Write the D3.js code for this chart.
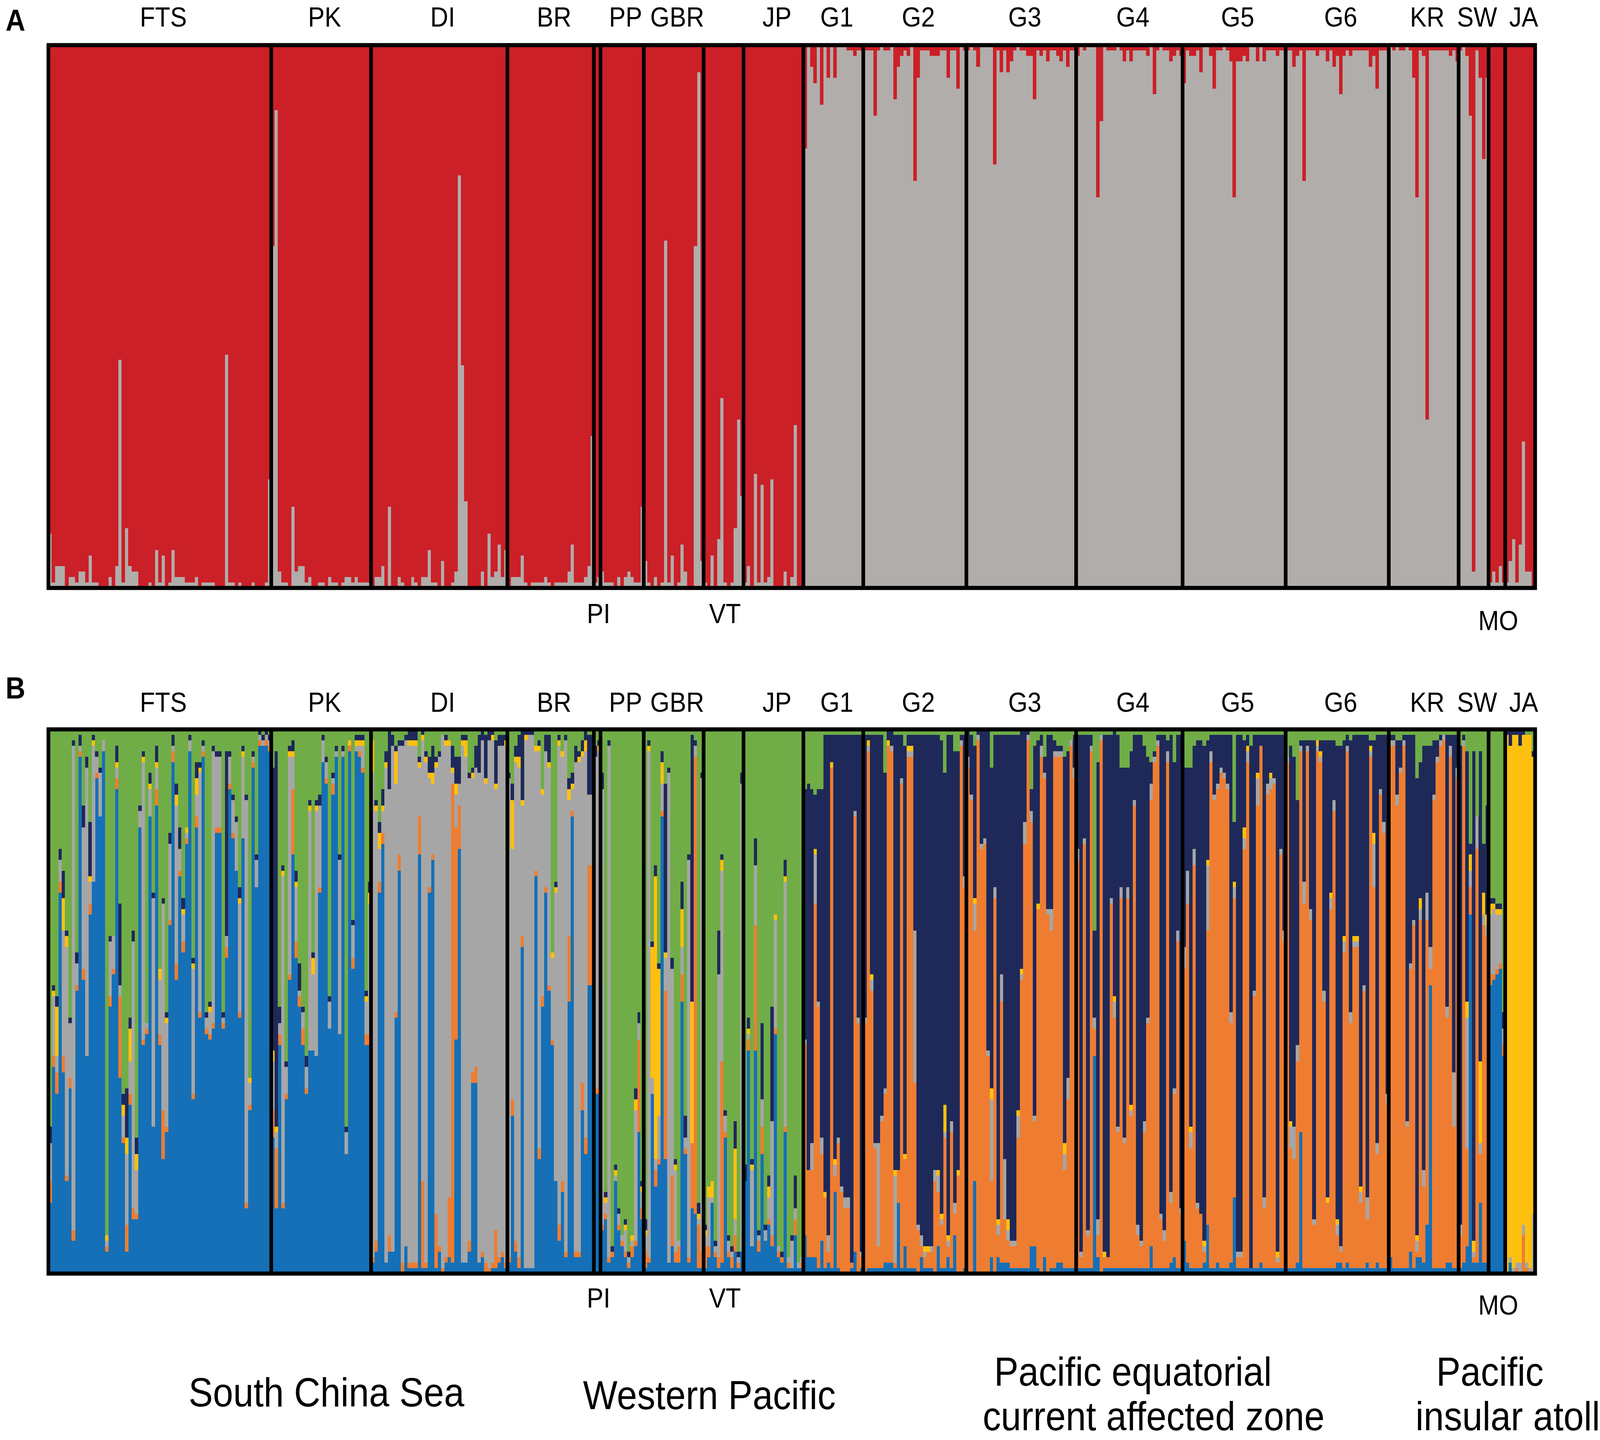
<!DOCTYPE html>
<html><head><meta charset="utf-8">
<script src="https://cdn.jsdelivr.net/npm/d3@7"></script>
<style>html,body{margin:0;padding:0;background:#fff;overflow:hidden}svg{display:block;width:100vw;height:100vh}</style>
</head><body>
<svg id="chart" viewBox="0 0 4563 3686" preserveAspectRatio="none"></svg>
<script>
// ---------------- DATA ----------------
const populations = ["FTS","PK","DI","BR","PI","PP","GBR","VT","JP","G1","G2","G3","G4","G5","G6","KR","SW","MO","JA"];
const topLabels = ["FTS","PK","DI","BR","PP","GBR","JP","G1","G2","G3","G4","G5","G6","KR","SW","JA"];
const bottomLabels = ["PI","VT","MO"];
const regionNames = [["South China Sea"],["Western Pacific"],["Pacific equatorial","current affected zone"],["Pacific","insular atoll"]];

// Panel A (K=2): membership (%) of the grey cluster per individual; red = 100 - grey
const A_FTS = [10,1,4,4,4,0,2,2,1,3,3,1,6,1,1,0,0,0,2,0,4,42,1,11,4,3,3,0,0,0,1,0,7,1,6,0,1,7,2,2,2,1,1,1,2,0,1,1,1,1,0,0,0,43,1,1,0,1,0,0,0,1,0,0,0,1,20];
const A_PK  = [63,88,3,1,1,0,15,3,4,4,1,2,0,0,1,1,0,2,1,1,0,1,2,2,1,2,1,1,1,1];
const A_DI  = [0,2,2,4,0,15,0,0,2,1,0,0,2,1,0,2,2,7,1,1,0,5,0,0,1,3,76,41,16,0,0,0,0,3,0,10,2,3,8,2,7];
const A_BR  = [0,2,2,2,6,1,0,1,1,1,1,2,1,0,1,1,1,1,3,8,1,1,1,2,4,28];
const A_PI  = [1,2];
const A_PP  = [3,1,1,1,0,2,0,2,3,2,1,1,15];
const A_GBR = [5,1,0,2,0,1,64,1,6,0,1,8,3,0,0,63,95,5];
const A_VT  = [1,0,6,0,9,35,1,0,1,11,31,17];
const A_JP  = [1,4,0,21,1,19,1,2,20,0,0,0,3,0,2,30,0,0];
const A_G1  = [81,100,96,93,100,89,100,94,100,94,100,100,100,99,99,98,99,99];
const A_G2  = [99,99,99,87,99,100,99,99,100,90,96,98,99,98,100,75,94,99,99,99,98,98,98,99,99,94,99,99,92,100,99];
const A_G3  = [99,100,99,96,100,100,100,100,78,99,95,99,95,97,99,100,99,99,98,98,90,99,98,99,97,99,99,98,97,99,96,99,99];
const A_G4  = [98,100,99,100,100,100,72,86,100,99,99,99,100,99,97,99,97,99,99,99,99,98,100,91,99,100,99,99,97,98,99,98];
const A_G5  = [93,99,98,98,99,95,100,100,98,92,99,99,100,99,97,72,97,97,98,97,100,100,97,100,97,99,99,99,98,99,99];
const A_G6  = [99,99,96,98,99,75,99,99,99,98,99,99,97,99,96,98,91,98,99,98,99,99,99,99,99,96,98,92,99,99,99];
const A_KR  = [100,99,100,99,99,100,99,94,72,99,98,31,99,99,99,99,99,99,98,99,97];
const A_SW  = [99,100,98,87,3,99,94,79,94];
const A_MO  = [1,3,1,4,1];
const A_JA  = [1,5,9,1,8,27,3,3,0];

// Panel B (K=6): [blue, orange, grey, yellow, navy] in %, green = remainder
const B_FTS = [[13,4,7,0,3],[38,2,11,1,1],[33,4,3,9,2],[70,2,4,0,2],[37,3,23,6,5],[17,1,42,2,1],[34,2,10,0,1],[6,2,89,0,1],[52,1,4,0,2],[95,1,1,0,2],
[54,2,26,0,4],[40,0,53,0,2],[66,2,4,1,10],[72,0,25,1,1],[91,1,3,0,1],[84,0,8,0,1],[96,0,2,0,0],[4,1,1,1,0],[49,2,10,0,1],[55,1,6,0,0],
[89,2,2,1,3],[36,15,2,0,15],[24,1,4,2,2],[4,5,13,3,9],[31,2,6,6,2],[10,2,49,0,2],[10,1,8,3,3],[82,0,3,0,1],[42,1,51,1,1],[44,1,1,0,0],
[84,0,5,1,2],[27,0,42,0,1],[86,3,4,1,3],[42,2,10,2,0],[21,9,38,0,1],[26,1,19,1,1],[64,1,14,0,2],[94,2,1,0,2],[54,3,29,2,2],[73,1,4,0,4],
[59,2,5,1,2],[79,1,1,1,0],[96,0,2,0,1],[32,1,23,1,1],[82,2,4,3,3],[47,1,44,1,1],[95,1,1,0,1],[44,1,2,0,1],[43,1,4,1,1],[45,1,50,0,1],
[81,1,13,0,1],[81,1,13,0,1],[45,1,1,0,1],[58,2,2,0,34],[89,1,5,0,1],[80,1,6,0,1],[74,0,9,0,1],[47,1,20,1,2],[80,0,15,1,1],[12,1,74,0,1],
[30,1,4,1,0],[93,1,1,0,1],[71,0,5,0,1],[97,1,1,0,1],[97,0,1,0,1],[97,1,1,0,1],[96,1,1,0,1]];
const B_PK = [[25,5,9,2,52],[12,11,3,1,69],[42,2,2,0,3],[12,1,60,1,1],[32,1,5,0,1],[54,1,40,1,1],[77,12,6,1,2],[58,3,10,1,2],[49,2,1,0,5],[42,3,3,0,1],
[33,1,4,0,2],[41,0,44,1,1],[41,0,14,3,1],[40,0,45,1,1],[70,1,15,0,2],[94,0,4,0,1],[90,1,3,0,1],[45,0,5,0,1],[88,2,1,0,1],[95,0,1,0,1],
[44,0,32,0,1],[95,0,1,0,1],[22,0,4,0,1],[96,1,0,1,0],[56,2,6,0,1],[96,0,1,1,1],[95,1,1,1,1],[92,1,4,1,1],[42,2,6,1,1],[42,2,24,2,2]];
const B_DI = [[2,1,89,6,0],[4,2,79,1,1],[70,2,6,3,2],[79,2,4,1,3],[2,0,91,1,2],[4,3,82,0,11],[4,0,93,0,2],[47,1,42,6,1],[74,3,20,0,1],[0,2,95,0,1],
[5,0,93,0,1],[1,1,95,1,2],[1,1,95,1,2],[1,1,95,1,2],[77,7,9,1,1],[1,16,81,1,1],[1,1,92,1,1],[70,1,20,1,3],[76,1,13,2,5],[1,10,82,1,1],
[4,1,90,0,1],[0,1,98,0,0],[2,1,94,1,1],[3,11,83,1,0],[2,88,2,1,4],[43,39,6,2,5],[78,8,4,0,5],[2,0,95,1,1],[2,0,93,3,1],[4,2,85,0,1],
[35,2,54,1,1],[35,3,55,0,4],[2,0,90,0,7],[3,1,94,0,2],[0,2,88,1,8],[0,1,97,0,2],[1,1,96,1,1],[1,7,81,1,8],[2,1,94,0,2],[3,1,93,0,2],[1,1,95,1,1]];
const B_BR = [[2,1,88,0,1],[29,3,46,9,3],[4,2,88,1,2],[1,2,90,2,4],[60,2,24,1,13],[1,0,97,1,1],[1,0,98,0,1],[1,0,98,0,1],[73,1,22,1,0],[21,2,73,1,1],
[49,2,37,1,0],[70,1,25,0,3],[52,1,40,1,5],[42,1,15,1,0],[17,0,53,1,1],[6,3,88,1,1],[15,2,78,1,0],[3,1,94,0,1],[50,12,25,2,2],[84,1,4,1,2],
[3,1,90,0,3],[3,1,90,1,1],[30,5,60,1,2],[22,3,71,2,2],[53,22,13,0,11],[53,22,13,0,11]];
const B_PI = [[33,1,61,0,2],[33,1,62,1,1]];
const B_PP = [[8,1,80,0,3],[10,1,2,1,1],[2,1,94,0,1],[3,1,0,0,1],[17,0,1,1,1],[8,1,2,0,1],[5,1,1,0,0],[3,1,4,1,1],[1,1,1,0,1],[3,2,1,1,0],[5,1,24,2,2],[26,17,3,0,2],[10,2,3,1,1]];
const B_GBR = [[1,3,3,1,2],[2,1,93,1,1],[33,0,3,24,1],[16,3,2,52,2],[20,1,8,27,1],[84,1,5,4,2],[21,31,6,1,31],[2,0,90,0,1],[5,13,38,0,2],[2,2,15,1,1],
[2,3,1,0,0],[50,5,5,7,5],[22,1,2,0,4],[2,1,73,0,1],[12,12,0,26,49],[11,84,2,0,1],[1,8,1,1,2],[1,3,87,0,1]];
const B_VT = [[1,4,2,1,1],[3,2,9,2,0],[13,0,1,3,0],[3,1,1,0,1],[1,2,52,0,8],[2,37,35,2,1],[25,1,3,0,1],[3,1,2,0,1],[1,2,1,0,1],[4,3,3,13,5],[1,1,1,0,1],[4,0,86,0,2]];
const B_JP = [[17,0,0,0,3],[41,2,1,1,2],[5,0,14,1,1],[41,23,11,0,5],[4,2,1,0,1],[22,5,5,0,14],[6,0,2,0,1],[9,1,4,2,2],[5,2,21,0,21],[44,1,20,1,0],
[3,1,1,0,0],[2,1,0,0,1],[26,1,45,1,3],[1,1,1,0,0],[1,0,5,0,1],[7,3,2,0,6],[1,0,1,0,0],[1,1,1,0,0]];
const B_G1 = [[7,35,1,0,46],[3,16,0,0,71],[3,16,5,0,65],[3,65,9,1,10],[1,48,1,0,39],[6,16,3,0,64],[1,13,0,1,84],[2,2,3,0,92],[1,92,0,1,5],[15,3,2,1,78],
[1,23,1,0,74],[0,15,1,0,83],[0,12,2,0,85],[0,12,2,0,85],[1,1,0,0,97],[4,80,1,0,14],[0,46,1,0,52],[1,2,1,0,95]];
const B_G2 = [[0,46,1,0,52],[1,95,1,1,1],[1,51,2,1,44],[1,22,1,0,75],[1,4,19,0,75],[1,27,1,0,70],[2,31,1,0,58],[2,95,0,1,2],[2,94,1,0,3],[1,1,16,1,80],
[13,6,0,0,80],[1,89,1,0,8],[5,16,0,1,75],[1,94,1,1,2],[1,94,1,1,2],[1,34,28,0,36],[0,8,1,0,90],[3,2,2,0,92],[1,2,1,1,94],[1,3,0,1,94],
[1,3,1,0,94],[0,17,2,0,80],[5,10,3,1,80],[1,8,1,1,87],[1,24,1,5,61],[3,2,1,1,92],[1,25,2,0,71],[7,4,2,0,83],[0,18,0,1,77],[0,97,1,0,1],[1,70,2,0,26]];
const B_G3 = [[0,93,2,0,5],[0,87,1,0,11],[17,46,5,1,28],[0,98,1,0,1],[0,78,1,0,21],[0,79,1,0,20],[0,40,1,0,59],[3,14,15,2,59],[0,69,2,0,28],[3,4,2,1,89],
[2,48,5,0,44],[2,8,11,0,78],[2,4,2,2,89],[1,4,1,0,93],[1,4,1,0,93],[1,24,4,1,69],[1,53,1,1,44],[1,78,4,0,17],[1,97,1,0,1],[5,78,2,0,4],
[5,23,1,0,68],[1,66,0,1,30],[0,95,2,0,2],[3,88,1,0,3],[0,66,1,0,32],[1,62,4,0,32],[1,94,1,0,2],[2,93,1,0,1],[2,93,1,0,1],[1,18,3,2,71],
[1,31,4,0,60],[1,96,1,0,0],[1,90,2,0,6]];
const B_G4 = [[1,75,2,0,21],[1,2,1,0,95],[1,78,1,0,19],[1,6,1,0,91],[1,95,1,0,2],[40,5,2,0,16],[3,4,3,0,84],[0,98,1,0,0],[1,2,0,1,95],[1,2,0,0,96],
[1,67,1,0,30],[1,46,3,1,49],[1,25,1,0,72],[1,68,2,0,22],[1,23,1,0,68],[1,68,2,0,22],[1,28,1,1,65],[1,85,1,0,12],[1,6,2,0,90],[1,4,1,0,93],
[1,25,2,0,69],[1,45,1,0,48],[5,82,3,0,4],[1,93,1,0,1],[1,96,1,0,1],[1,9,1,0,88],[1,5,2,0,91],[1,93,2,0,2],[2,11,2,0,84],[3,30,1,0,60],
[1,60,2,0,36],[1,10,1,0,87]];
const B_G5 = [[6,50,4,0,33],[2,66,6,0,19],[1,22,3,1,66],[1,74,3,0,19],[1,11,1,0,85],[1,10,0,0,87],[2,2,1,1,91],[9,54,12,1,22],[1,93,2,0,3],[1,86,1,0,11],
[2,87,1,0,9],[1,91,1,0,6],[1,90,1,0,7],[1,88,1,0,9],[2,44,2,0,51],[14,55,2,1,11],[1,2,1,0,95],[1,2,1,0,95],[1,77,2,2,16],[1,93,2,1,2],
[1,0,0,0,96],[1,50,1,0,47],[1,85,5,1,7],[2,95,0,0,2],[1,11,2,0,85],[1,87,2,0,9],[1,88,2,1,7],[1,89,1,0,8],[1,1,1,1,95],[1,76,1,0,21],[1,60,2,0,36]];
const B_G6 = [[1,93,1,0,0],[1,22,4,1,69],[1,20,6,0,68],[2,37,3,0,45],[26,70,1,0,1],[1,67,4,0,26],[1,95,1,0,1],[1,64,2,0,31],[1,8,1,0,88],[1,95,1,1,0],
[1,93,1,1,2],[1,49,2,0,46],[1,12,0,1,84],[1,66,2,1,28],[1,84,2,0,11],[2,5,2,1,87],[2,2,1,0,92],[1,58,2,1,36],[2,94,1,0,2],[1,45,2,0,50],
[1,59,1,1,37],[1,59,1,1,37],[1,12,2,1,83],[1,51,1,0,46],[2,8,4,0,85],[1,94,1,1,1],[1,70,8,2,17],[2,20,2,0,75],[1,87,1,0,10],[1,80,2,0,16],[1,30,2,0,66]];
const B_KR = [[3,94,1,0,1],[1,96,1,0,1],[1,85,2,0,10],[1,91,1,0,5],[1,96,1,0,1],[1,26,1,0,71],[4,52,1,0,42],[1,63,1,0,34],[3,1,2,1,84],[3,62,2,2,25],
[2,14,3,0,78],[9,56,5,0,27],[53,3,4,0,37],[1,86,1,0,10],[1,93,1,0,3],[1,96,1,0,1],[1,97,1,0,0],[2,45,2,0,50],[2,93,2,0,2],[1,26,10,0,62],[1,90,2,0,6]];
const B_SW = [[1,6,2,0,88],[2,95,1,0,1],[5,18,24,3,46],[66,5,3,3,2],[2,1,1,2,90],[2,76,6,0,0],[13,9,2,15,57],[2,62,2,4,9],[2,60,2,2,20]];
const B_MO = [[53,2,11,2,1],[54,1,12,1,1],[55,1,10,1,1],[56,1,9,1,1],[40,2,3,0,3]];
const B_JA = [[0,0,0,99,1],[2,0,1,94,3],[0,0,1,98,1],[0,1,1,97,1],[0,0,2,95,3],[0,7,2,90,1],[0,1,1,97,0],[0,0,1,98,0],[0,0,11,84,1]];

const panelAData = [A_FTS,A_PK,A_DI,A_BR,A_PI,A_PP,A_GBR,A_VT,A_JP,A_G1,A_G2,A_G3,A_G4,A_G5,A_G6,A_KR,A_SW,A_MO,A_JA];
const panelBData = [B_FTS,B_PK,B_DI,B_BR,B_PI,B_PP,B_GBR,B_VT,B_JP,B_G1,B_G2,B_G3,B_G4,B_G5,B_G6,B_KR,B_SW,B_MO,B_JA];

const keysA = ["grey","red"];
const colorsA = {grey:"#b0adab", red:"#cb2027"};
const keysB = ["blue","orange","grey","yellow","navy","green"];
const colorsB = {blue:"#1570b8", orange:"#ee7d31", grey:"#a6a6a6", yellow:"#fec00f", navy:"#1e2959", green:"#70ad47"};

// ---------------- LAYOUT ----------------
const W = 4563, H = 3686;
const X0 = 138, X1 = 4378;
const panels = [
  {letter:"A", top:115.5, bottom:1505, letterY:79, labelY:68, botLabelY:1595, moY:1613},
  {letter:"B", top:1867, bottom:3260, letterY:1788, labelY:1822, botLabelY:3347, moY:3365}
];
const FONT = "'Liberation Sans', Arial, Helvetica, sans-serif";

const svg = d3.select("#chart");
svg.append("rect").attr("width",W).attr("height",H).attr("fill","#fff");

const counts = panelAData.map(a => a.length);
const N = d3.sum(counts);
const starts = []; let acc = 0;
counts.forEach(c => { starts.push(acc); acc += c; });

const x = d3.scaleBand().domain(d3.range(N)).range([X0, X1]).paddingInner(0).paddingOuter(0);
const xEdge = d3.scaleLinear().domain([0, N]).range([X0, X1]);

const rowsA = [];
panelAData.forEach((arr, p) => arr.forEach((g, j) => rowsA.push({idx: starts[p]+j, grey: g/100, red: (100-g)/100})));
const rowsB = [];
panelBData.forEach((arr, p) => arr.forEach((v, j) => {
  const s = v[0]+v[1]+v[2]+v[3]+v[4];
  rowsB.push({idx: starts[p]+j, blue:v[0]/100, orange:v[1]/100, grey:v[2]/100, yellow:v[3]/100, navy:v[4]/100, green:Math.max(0,100-s)/100});
}));

function drawPanel(pan, rows, keys, colors) {
  const y = d3.scaleLinear().domain([0,1]).range([pan.bottom, pan.top]);
  const series = d3.stack().keys(keys)(rows);
  const g = svg.append("g");
  g.selectAll("g.layer").data(series).join("g")
    .attr("class","layer").attr("fill", d => colors[d.key])
    .selectAll("rect").data(d => d).join("rect")
    .attr("x", d => x(d.data.idx))
    .attr("width", x.bandwidth() + 0.6)
    .attr("y", d => y(d[1]))
    .attr("height", d => Math.max(0, y(d[0]) - y(d[1])))
    .attr("shape-rendering","crispEdges");

  g.selectAll("line.sep").data(starts.slice(1)).join("line")
    .attr("x1", d => xEdge(d)).attr("x2", d => xEdge(d))
    .attr("y1", pan.top).attr("y2", pan.bottom)
    .attr("stroke","#000").attr("stroke-width",10.5);
  g.append("rect").attr("x",X0).attr("y",pan.top)
    .attr("width",X1-X0).attr("height",pan.bottom-pan.top)
    .attr("fill","none").attr("stroke","#000").attr("stroke-width",10.5);

  const center = p => (xEdge(starts[p]) + xEdge(starts[p]+counts[p]))/2;
  g.selectAll("text.top").data(topLabels).join("text")
    .attr("x", d => center(populations.indexOf(d)) + 10)
    .attr("y", pan.labelY)
    .attr("text-anchor","middle").attr("font-family",FONT).attr("font-size",71)
    .text(d => d);
  g.selectAll("text.bot").data(bottomLabels).join("text")
    .attr("x", d => center(populations.indexOf(d)) + 4)
    .attr("y", d => d === "MO" ? pan.moY : pan.botLabelY)
    .attr("text-anchor","middle").attr("font-family",FONT).attr("font-size",71)
    .text(d => d);
  g.append("text").attr("x",16).attr("y",pan.letterY)
    .attr("font-family",FONT).attr("font-size",78).attr("font-weight","bold")
    .text(pan.letter);
}

drawPanel(panels[0], rowsA, keysA, colorsA);
drawPanel(panels[1], rowsB, keysB, colorsB);

const regionPos = [
  {x:[931], y:[3600]},
  {x:[2023], y:[3607]},
  {x:[3231,3290], y:[3547,3661]},
  {x:[4249,4300], y:[3547,3661]}
];
regionNames.forEach((lines, i) => {
  lines.forEach((t, k) => {
    svg.append("text").attr("x", regionPos[i].x[k]).attr("y", regionPos[i].y[k])
      .attr("text-anchor","middle").attr("font-family",FONT).attr("font-size",104)
      .text(t);
  });
});
</script>
</body></html>
